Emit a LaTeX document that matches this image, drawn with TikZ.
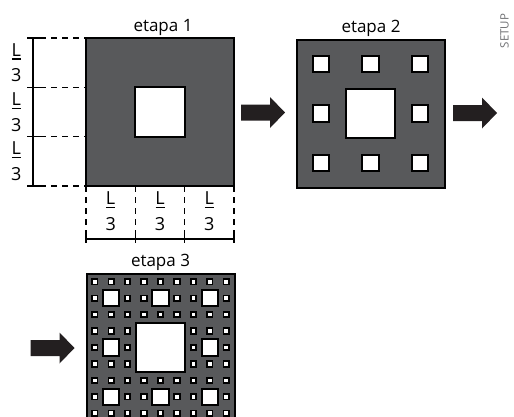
\documentclass[tikz,border=0pt]{standalone}
\usepackage{fontspec}
\setmainfont{Open Sans}
\usepackage{tikz}
\usetikzlibrary{calc}

\definecolor{platefill}{HTML}{58595B}
\definecolor{arrowfill}{HTML}{231F20}
\definecolor{setupgray}{HTML}{6D6E71}

% holes of one level: corner, cells per side, side
\newcommand{\holegrid}[3]{%
  \pgfmathsetmacro{\cellsz}{#3/#2}
  \foreach \i in {1,...,#2}
    \foreach \j in {1,...,#2}
      \draw[hole] ($(#1)+({(\i-2/3)*\cellsz},{(\j-2/3)*\cellsz})$) rectangle ++(\cellsz/3,\cellsz/3);
}
% block arrow from its tail point
\newcommand{\stagearrow}[1]{%
  \fill[arrowfill] (#1) ++(0,-8) -- ++(29,0) -- ++(0,-7.5) -- ++(15,15.5) -- ++(-15,15.5) -- ++(0,-7.5) -- ++(-29,0) -- cycle;
}

\begin{document}
\begin{tikzpicture}[x=1pt,y=-1pt,
    plate/.style={fill=platefill,draw=black,line width=2pt},
    hole/.style={fill=white,draw=black,line width=1.8pt},
    guide/.style={line width=1.5pt,dash pattern=on 6pt off 5pt},
    dimline/.style={line width=1.6pt},
    stagelabel/.style={font=\fontsize{17}{20}\selectfont,inner sep=0pt,anchor=base},
    third/.style={font=\fontsize{18}{18}\selectfont,align=center,inner sep=0pt}]
  \useasboundingbox (0,0) rectangle (514,416);
  \clip (0,0) rectangle (514,416);

  \coordinate (s1) at (86,38);
  \coordinate (s2) at (296.5,39.5);
  \coordinate (s3) at (86.5,273.5);

  % etapa 1
  \draw[plate] (s1) rectangle ++(148,148);
  \holegrid{s1}{1}{148}
  \node[stagelabel] (t1) at (163,31.5) {etapa 1};

  % etapa 2
  \draw[plate] (s2) rectangle ++(148,148);
  \holegrid{s2}{3}{148}
  \holegrid{s2}{1}{148}
  \node[stagelabel] (t2) at (371,32.5) {etapa 2};

  % etapa 3
  \draw[plate] (s3) rectangle ++(148,148);
  \holegrid{s3}{9}{148}
  \holegrid{s3}{3}{148}
  \holegrid{s3}{1}{148}
  \node[stagelabel] (t3) at (160.5,266.5) {etapa 3};

  \coordinate (a1) at (241,112.5);
  \coordinate (a2) at (453,113);
  \coordinate (a3) at (30.5,348);
  \stagearrow{a1}
  \stagearrow{a2}
  \stagearrow{a3}

  % side lengths
  \draw[dimline] (33,38) -- (33,186);
  \draw[dimline] (86,239) -- (234,239);
  \foreach \k in {0,...,3}{
    \draw[dimline] (27,{38+\k*148/3}) -- (40,{38+\k*148/3});
    \draw[guide] (40,{38+\k*148/3}) -- (86,{38+\k*148/3});
    \draw[dimline] ({86+\k*148/3},235) -- ({86+\k*148/3},243);
    \draw[guide] ({86+\k*148/3},186) -- ({86+\k*148/3},235);
  }
  \foreach \k [count=\n] in {0,1,2}{
    \node[third] (lv\n) at (16.3,{38+(\k+0.5)*148/3}) {L\\[-14.5pt]\rule{9pt}{1.4pt}\\[4pt]3};
    \node[third] (lh\n) at ({86+(\k+0.5)*148/3},211) {L\\[-14.5pt]\rule{9pt}{1.4pt}\\[4pt]3};
  }

  \node[rotate=90,font=\fontsize{11.5}{13}\selectfont,text=setupgray] (setup) at (504.5,31) {SETUP};
\end{tikzpicture}
\end{document}
